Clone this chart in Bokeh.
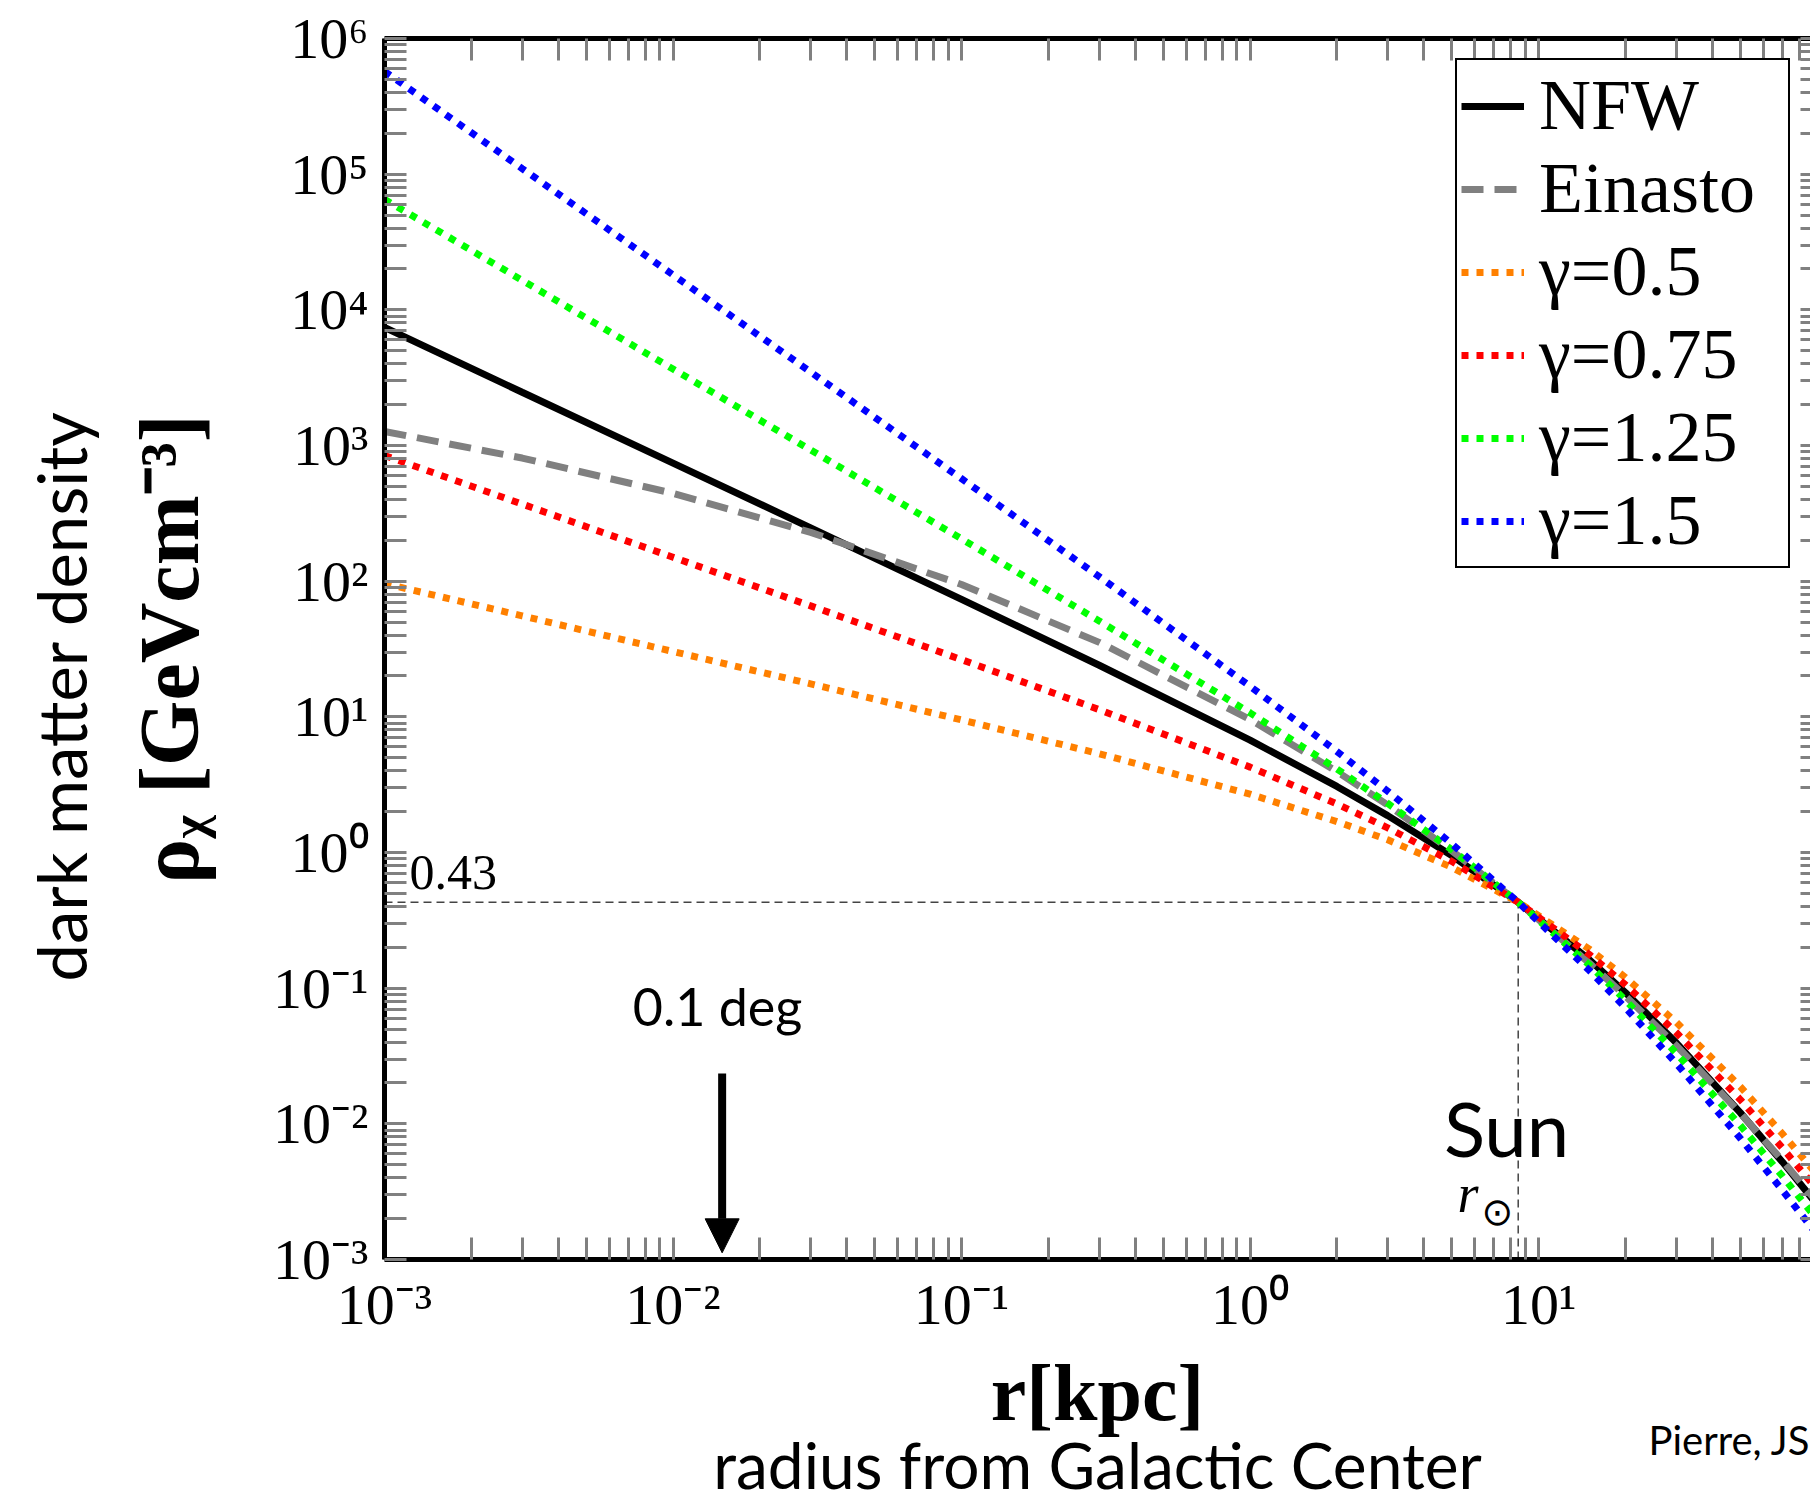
from bokeh.plotting import figure
from bokeh.models import (Range1d, LogAxis, FixedTicker, Label, Legend,
                          LegendItem, Arrow, NormalHead, Title)
from bokeh.embed import file_html
from bokeh.resources import INLINE

# ---------------------------------------------------------------- data
# galactocentric radius samples [kpc]
radius = [0.001, 0.003, 0.01, 0.03, 0.1, 0.3, 1, 2, 3, 5, 8.5,
          15, 20, 30, 50, 70, 100]

# dark matter density [GeV cm^-3] for each halo profile
rho_nfw = [7420, 2470, 742, 247, 73.5, 24.0, 6.73, 3.07, 1.87, 0.950, 0.43,
           0.162, 0.0928, 0.0396, 0.0121, 0.00524, 0.00206]
rho_einasto = [1270, 808, 444, 229, 94.5, 35.4, 9.57, 3.95, 2.24, 1.03, 0.43,
               0.153, 0.0874, 0.0378, 0.0120, 0.00536, 0.00216]
rho_g050 = [96.1, 55.5, 30.3, 17.5, 9.49, 5.35, 2.69, 1.69, 1.24, 0.778, 0.43,
            0.194, 0.120, 0.0561, 0.0188, 0.00845, 0.00345]
rho_g075 = [844, 370, 150, 65.7, 26.4, 11.3, 4.26, 2.28, 1.52, 0.860, 0.43,
            0.177, 0.106, 0.0471, 0.0151, 0.00665, 0.00267]
rho_g125 = [65200, 16500, 3660, 927, 205, 50.9, 10.7, 4.13, 2.30, 1.05, 0.43,
            0.148, 0.0815, 0.0332, 0.00975, 0.00412, 0.00159]
rho_g150 = [573000, 110000, 18100, 3480, 569, 108, 16.8, 5.56, 2.83, 1.16, 0.43,
            0.135, 0.0717, 0.0279, 0.00783, 0.00324, 0.00123]

profile_names = ["NFW", "Einasto", "γ=0.5", "γ=0.75", "γ=1.25", "γ=1.5"]
profile_values = [rho_nfw, rho_einasto, rho_g050, rho_g075, rho_g125, rho_g150]

r_sun = 8.5          # solar radius [kpc]
rho_sun = 0.43       # local density [GeV cm^-3]
r_01deg = 0.0148     # 0.1 degree seen from the Sun [kpc]

x_decades = [-3, -2, -1, 0, 1, 2]
x_tick_labels = ["10⁻³", "10⁻²", "10⁻¹", "10⁰", "10¹", "10²"]
y_decades = [-3, -2, -1, 0, 1, 2, 3, 4, 5, 6]
y_tick_labels = ["10⁻³", "10⁻²", "10⁻¹", "10⁰", "10¹", "10²", "10³",
                 "10⁴", "10⁵", "10⁶"]

# ---------------------------------------------------------------- layout
W, H = 1810, 1507
FRAME_LEFT, FRAME_TOP, FRAME_BOTTOM = 384, 38, 1259
X_MAX = 87.6

SERIF = "Liberation Serif"
SANS = "Lato"
TICK_GREY = "#808080"


def scr(px, py):
    """page pixel -> screen units of the plot frame (origin bottom-left)"""
    return px - FRAME_LEFT, FRAME_BOTTOM - py


p = figure(width=W, height=H, x_axis_type="log", y_axis_type="log",
           x_range=Range1d(1e-3, X_MAX), y_range=Range1d(1e-3, 1e6),
           output_backend="svg", toolbar_location=None,
           min_border_left=FRAME_LEFT, min_border_right=0,
           min_border_top=FRAME_TOP, min_border_bottom=H - FRAME_BOTTOM)
p.outline_line_color = None
p.xgrid.visible = False
p.ygrid.visible = False
p.background_fill_color = "white"
p.border_fill_color = "white"


def decade_ticker(decades):
    majors = [10.0 ** e for e in decades]
    minors = [k * 10.0 ** e for e in decades[:-1] for k in range(2, 10)]
    return FixedTicker(ticks=majors, minor_ticks=minors)


x_ticker = decade_ticker(x_decades)
y_ticker = decade_ticker(y_decades)


def style_axis(ax, tick_len=22, show_labels=True, line=True):
    ax.axis_line_color = "black" if line else None
    ax.axis_line_width = 5
    ax.major_tick_in = tick_len
    ax.major_tick_out = 0
    ax.minor_tick_in = tick_len
    ax.minor_tick_out = 0
    ax.major_tick_line_color = TICK_GREY
    ax.minor_tick_line_color = TICK_GREY
    ax.major_tick_line_width = 3
    ax.minor_tick_line_width = 3
    if show_labels:
        ax.major_label_text_font = SERIF
        ax.major_label_text_font_size = "58px"
        ax.major_label_text_color = "black"
        ax.major_label_standoff = 12
        ax.axis_label_text_font = SERIF
        ax.axis_label_text_font_style = "bold"
        ax.axis_label_text_color = "black"
    else:
        ax.major_label_text_font_size = "1px"
        ax.major_label_text_alpha = 0
        ax.major_label_standoff = 0


xb = p.xaxis[0]
xb.ticker = x_ticker
xb.major_label_overrides = {10.0 ** e: t for e, t in zip(x_decades, x_tick_labels)}
style_axis(xb)
xb.axis_label = "r[kpc]"
xb.axis_label_text_font_size = "80px"
xb.axis_label_standoff = 9

yl = p.yaxis[0]
yl.ticker = y_ticker
yl.major_label_overrides = {10.0 ** e: t for e, t in zip(y_decades, y_tick_labels)}
style_axis(yl)
yl.major_label_standoff = 16
yl.axis_label = "ρᵪ [GeVcm⁻³]"
yl.axis_label_text_font_size = "84px"
yl.axis_label_standoff = 54

xt = LogAxis(ticker=x_ticker)
style_axis(xt, show_labels=False)
p.add_layout(xt, "above")

yr = LogAxis(ticker=y_ticker)
style_axis(yr, tick_len=10, show_labels=False, line=False)
p.add_layout(yr, "right")

# outer captions
p.add_layout(Title(text="dark matter density", align="left", offset=278,
                   vertical_align="top", standoff=36, text_font=SANS,
                   text_font_size="67px", text_font_style="normal",
                   text_color="black"), "left")
p.add_layout(Title(text="Pierre, JS", align="right", offset=0,
                   vertical_align="top", standoff=-47, text_font=SANS,
                   text_font_size="40px", text_font_style="normal",
                   text_color="black"), "below")
p.add_layout(Title(text="radius from Galactic Center", align="center",
                   vertical_align="top", standoff=-34, text_font=SANS,
                   text_font_size="64px", text_font_style="normal",
                   text_color="black"), "below")

# ---------------------------------------------------------------- curves
line_styles = [
    dict(line_color="black", line_width=7, line_dash="solid"),
    dict(line_color="#808080", line_width=7, line_dash="22 11"),
    dict(line_color="#ff8000", line_width=7, line_dash="7 8"),
    dict(line_color="#ff0000", line_width=7, line_dash="7 8"),
    dict(line_color="#00ff00", line_width=7, line_dash="7 8"),
    dict(line_color="#0000ff", line_width=7, line_dash="7 8"),
]

# local density guide lines
guide = dict(line_color="#444444", line_width=1.5, line_dash="8 5")
p.line([1e-3, r_sun], [rho_sun, rho_sun], **guide)
p.line([r_sun, r_sun], [1e-3, rho_sun], **guide)

renderers = []
for vals, st in zip(profile_values, line_styles):
    renderers.append(p.line(radius, vals, line_cap="butt", **st))

legend = Legend(items=[LegendItem(label=n, renderers=[r])
                       for n, r in zip(profile_names, renderers)],
                location="top_right")
legend.label_text_font = SERIF
legend.label_text_font_size = "72px"
legend.label_text_color = "black"
legend.glyph_width = 63
legend.glyph_height = 30
legend.label_standoff = 15
legend.label_width = 245
legend.spacing = 0
legend.padding = 4
legend.margin = 20
legend.border_line_color = "black"
legend.border_line_alpha = 1.0
legend.border_line_width = 2
legend.background_fill_color = "white"
legend.background_fill_alpha = 1.0
p.add_layout(legend)

# ---------------------------------------------------------------- annotations
p.add_layout(Arrow(x_start=r_01deg, y_start=0.0235, x_end=r_01deg, y_end=0.00112,
                   line_width=8, line_color="black",
                   end=NormalHead(size=34, fill_color="black", line_color="black")))


def text_at(px, py, text, font=SANS, size=48, style="normal", align="left"):
    # py is the wanted baseline; Bokeh anchors "alphabetic" a bit lower
    sx, sy = scr(px, py - 0.33 * size)
    p.add_layout(Label(x=sx, y=sy, x_units="screen", y_units="screen", text=text,
                       text_font=font, text_font_size=f"{size}px",
                       text_font_style=style, text_align=align,
                       text_baseline="alphabetic", text_color="black"))


text_at(409, 888, "0.43", font=SERIF, size=50)
text_at(717, 1023, "0.1 deg", size=52, align="center")
text_at(1506, 1152, "Sun", size=76, align="center")
text_at(1457, 1211, "r", font=SERIF, size=54, style="italic")
text_at(1481, 1224, "⊙", font="DejaVu Sans", size=38)

open("out.html", "w").write(file_html(p, INLINE))
